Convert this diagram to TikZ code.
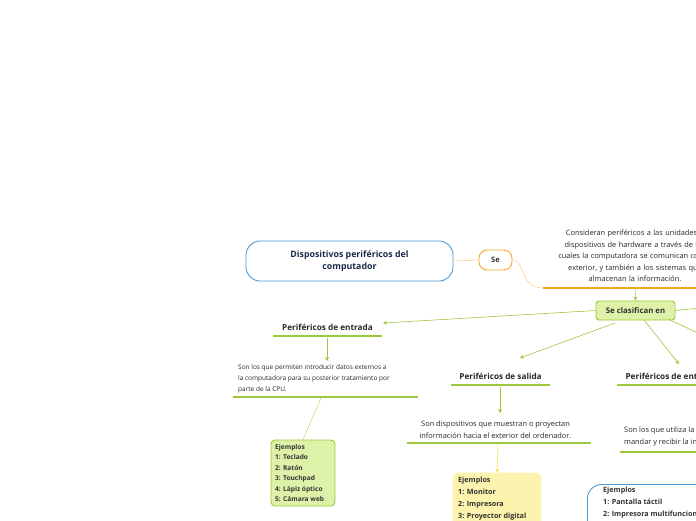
\documentclass[tikz,border=0pt]{standalone}
\usepackage{fontspec}
\setmainfont{Open Sans}
\usetikzlibrary{arrows.meta}
\definecolor{gr}{HTML}{9BC93B}
\definecolor{grf}{HTML}{DDF2A8}
\definecolor{navy}{HTML}{1B2A4A}
\definecolor{bl}{HTML}{4C9BD6}
\definecolor{org}{HTML}{F5A623}
\definecolor{yel}{HTML}{F3E34A}
\definecolor{yelf}{HTML}{FCF3AE}
\tikzset{
 body/.style={font=\fontsize{7.4}{11.6}\selectfont, text=black!85},
 head/.style={font=\fontsize{8.2}{10}\selectfont\bfseries, text=black!85},
 gl/.style={draw=gr, line width=0.6pt},
 ga/.style={gl, -{Stealth[length=4pt,width=4pt]}},
 ul/.style={draw=gr, line width=1.4pt},
 ex/.style={font=\fontsize{7.2}{12}\selectfont\bfseries, text=black!80, align=left, anchor=north west, inner sep=0pt}
}
\begin{document}
\begin{tikzpicture}[x=1pt,y=-1pt]
\useasboundingbox (0,0) rectangle (696,520);
\clip (0,0) rectangle (696,520);
% title
\node[draw=bl, line width=0.9pt, rounded corners=14pt, minimum width=207pt, minimum height=40pt, align=center, font=\fontsize{8.8}{12.5}\selectfont\bfseries, text=navy] (title) at (349.5,261) {Dispositivos periféricos del\\computador};
\node[draw=org, line width=0.9pt, rounded corners=8pt, minimum width=33pt, minimum height=20pt, font=\fontsize{7.5}{9}\selectfont\bfseries, text=black!80] (se) at (495.5,260) {Se};
\draw[draw=org!50, line width=0.6pt] (title.east) -- (se.west);
\node[body, align=center, text width=240pt] (def) at (635,256) {Consideran periféricos a las unidades o\\dispositivos de hardware a través de los\\cuales la computadora se comunican con el\\exterior, y también a los sistemas que\\almacenan la información.};
\coordinate (defl) at (543,288);
\coordinate (defr) at (700,288);
\coordinate (defm) at (635,288);
\draw[draw=org!50, line width=0.6pt] (se.east) .. controls (525,260) and (520,288) .. (defl);
\draw[draw=org, line width=1.4pt] (defl) -- (defr);
\node[draw=gr, fill=grf, line width=0.9pt, rounded corners=3pt, minimum width=79pt, minimum height=19pt, font=\fontsize{7.8}{9}\selectfont\bfseries, text=black!80] (cls) at (635.5,310.5) {Se clasifican en};
\draw[ga] (defm) -- (cls.north);
% entrada
\node[head] (ent) at (327.5,327) {Periféricos de entrada};
\coordinate (entl) at (273,336); \coordinate (entr) at (382,336);
\draw[ul] (entl) -- (entr);
\draw[ga] (cls.west) -- (383,323);
\node[body, font=\fontsize{6.5}{11}\selectfont, align=left, anchor=north west, inner sep=0pt] (entt) at (238,364) {Son los que permiten introducir datos externos a\\la computadora para su posterior tratamiento por\\parte de la CPU.};
\draw[ga] (327,338) -- (327,361);
\draw[ul] (233,397) -- (418,397);
\node[draw=gr, fill=grf, line width=0.9pt, rounded corners=4pt, minimum width=64pt, minimum height=66pt] (entx) at (303,473) {};
\node[ex, font=\fontsize{6.6}{10.5}\selectfont\bfseries] at (275,444) {Ejemplos\\1: Teclado\\2: Ratón\\3: Touchpad\\4: Lápiz óptico\\5: Cámara web};
\draw[draw=gr!60, line width=0.6pt] (321,398) -- (entx.north);
% salida
\node[head] (sal) at (500.5,376) {Periféricos de salida};
\draw[ul] (451,385) -- (550,385);
\draw[ga] (615,323) -- (520,358);
\node[body, align=center] (salt) at (495.5,430) {Son dispositivos que muestran  o proyectan\\información hacia el exterior del ordenador.};
\draw[ga] (500,387) -- (500,413);
\draw[ul] (407,443) -- (591,443);
\node[draw=yelf, fill=yelf, line width=0.9pt, rounded corners=5pt, minimum width=88pt, minimum height=70pt] (salx) at (497,508) {};
\node[ex] at (458,477) {Ejemplos\\1: Monitor\\2: Impresora\\3: Proyector digital};
\draw[draw=yel, line width=0.6pt, -{Stealth[length=4pt,width=4pt]}] (498,444) -- (salx.north);
% entrada/salida
\node[head, anchor=west] (es) at (622,376) {Periféricos de entrada/salida};
\draw[ul] (617,385) -- (700,385);
\draw[ga] (644,320) -- (679,364);
\draw[gl] (cls.east) -- (700,308);
\draw[gl] (668,319) -- (700,334);
\node[body, align=left, anchor=north west, inner sep=0pt] (est) at (624,427) {Son los que utiliza la computadora para\\mandar y recibir la información.};
\draw[ul] (620,452) -- (700,452);
\node[draw=bl, fill=white, line width=0.9pt, rounded corners=14pt, minimum width=140pt, minimum height=80pt, anchor=north west] (esx) at (587,484) {};
\node[ex] at (603,487) {Ejemplos\\1: Pantalla táctil\\2: Impresora multifuncional};
\end{tikzpicture}
\end{document}
